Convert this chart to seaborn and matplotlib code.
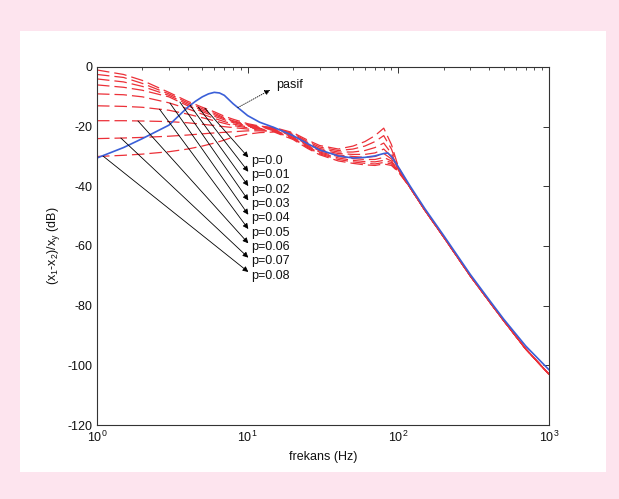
import matplotlib
matplotlib.use('Agg')
import matplotlib.pyplot as plt
import numpy as np
import seaborn as sns
from matplotlib.patches import Rectangle

# Passive system response (blue)
blue_freq = [1, 1.5, 2, 3, 4, 4.5, 5, 5.5, 6, 6.5, 7, 8, 10, 12, 15, 20, 25, 30, 40,
             50, 60, 70, 80, 85, 90, 100, 120, 150, 200, 300, 400, 500, 700, 1000]
blue_db = [-30.5, -27, -24, -19.5, -13.5, -11.5, -10, -9, -8.5, -8.7, -9.5, -12.3, -16.3,
           -18.5, -20.3, -23, -25.7, -27.8, -29.8, -30.5, -30.3, -29.8, -29, -28.8, -30,
           -33.5, -40, -47.5, -56.5, -69.5, -78, -84.5, -93.5, -101.5]

# Active responses (red dashed), one row per p value
red_freq = [1, 1.5, 2, 3, 4, 5, 6, 7, 8, 10, 12, 15, 20, 25, 30, 40, 50, 60, 70, 80, 90,
            100, 120, 150, 200, 300, 400, 500, 700, 1000]
red_tail_db = [-40.5, -48, -57, -70, -78.5, -85, -94.5, -103]
red_db = [
    [-1, -2.5, -4.5, -8.5, -11.5, -13.5, -15, -16.5, -17.5, -19, -19.8, -20.3, -22, -24.5,
     -26.3, -27.5, -26.5, -25, -23, -20.5, -26, -33.5],
    [-2.5, -3.5, -5.5, -9, -12, -14, -15.5, -17, -18, -19.3, -20, -20.5, -22.3, -25,
     -26.8, -28, -27.5, -26.5, -25, -23, -27.5, -33.8],
    [-4, -5, -6.5, -9.5, -12.5, -14.5, -16, -17.3, -18.3, -19.5, -20.2, -20.6, -22.6, -25.4,
     -27.3, -28.5, -28.5, -28, -27, -25.5, -29, -34],
    [-6, -6.8, -7.8, -10, -13, -15, -16.5, -17.7, -18.6, -19.8, -20.4, -20.8, -22.9, -25.8,
     -27.7, -29, -29.3, -29.3, -28.8, -27.5, -30, -34.2],
    [-9, -9.3, -10, -12, -14, -15.8, -17.2, -18.3, -19.1, -20.1, -20.6, -21, -23.2, -26.1,
     -28.1, -29.5, -30, -30.3, -30, -29, -30.8, -34.4],
    [-13, -13.2, -13.5, -14.5, -15.8, -17, -18, -18.9, -19.6, -20.4, -20.8, -21.2, -23.5,
     -26.4, -28.5, -30, -30.7, -31, -31, -30.3, -31.5, -34.6],
    [-18, -18, -18.1, -18.3, -18.7, -19.2, -19.6, -20, -20.3, -20.8, -21.1, -21.4, -23.8,
     -26.7, -28.8, -30.5, -31.3, -31.7, -31.8, -31.3, -32, -34.8],
    [-24, -23.8, -23.6, -23.2, -22.8, -22.4, -22.1, -21.9, -21.7, -21.4, -21.4, -21.6, -24,
     -27, -29.1, -31, -31.8, -32.3, -32.5, -32, -32.5, -35],
    [-30, -29.6, -29.2, -28.4, -27.5, -26.5, -25.5, -24.5, -23.5, -22.5, -22, -21.8, -24.3,
     -27.3, -29.4, -31.5, -32.3, -32.8, -33, -32.5, -33, -35.2],
]
p_labels = ['p=0.0', 'p=0.01', 'p=0.02', 'p=0.03', 'p=0.04', 'p=0.05', 'p=0.06',
            'p=0.07', 'p=0.08']
# where each arrow leaves its red curve (Hz) and where its label sits (dB)
arrow_start_freq = [5.2, 4.7, 4.15, 3.55, 3.05, 2.6, 1.87, 1.44, 1.1]
label_db = [-31.5, -36.3, -41.1, -45.9, -50.7, -55.5, -60.3, -65.1, -69.9]

sns.set_theme(style='white')
plt.rcParams['font.family'] = ['Liberation Sans', 'DejaVu Sans']
plt.rcParams['axes.unicode_minus'] = False
plt.rcParams['mathtext.fontset'] = 'custom'
plt.rcParams['mathtext.rm'] = 'Liberation Sans'

pink = '#fde4ee'
fig = plt.figure(figsize=(6.19, 4.99), dpi=100, facecolor=pink)
fig.add_artist(Rectangle((20 / 619, 27 / 499), 586 / 619, 441 / 499,
                         transform=fig.transFigure, facecolor='white',
                         edgecolor='none', zorder=-1))
ax = fig.add_axes([97 / 619, 74 / 499, 452 / 619, 358 / 499])
ax.set_facecolor('white')

for row in red_db:
    sns.lineplot(x=red_freq, y=row + red_tail_db, ax=ax, color='#ec3038',
                 linewidth=0.9, estimator=None, sort=False)
for line in ax.get_lines():
    line.set_dashes((10, 4))

sns.lineplot(x=blue_freq, y=blue_db, ax=ax, color='#3a5fd8', linewidth=1.2,
             estimator=None, sort=False)

ax.set_xscale('log')
ax.set_xlim(1, 1000)
ax.set_ylim(-120, 0)
ax.set_yticks(range(-120, 1, 20))

# p arrows
for row, f0, lab, ly in zip(red_db, arrow_start_freq, p_labels, label_db):
    y0 = np.interp(np.log10(f0), np.log10(red_freq[:len(row)]), row)
    ax.annotate('', xy=(10.1, ly + 1.2), xytext=(f0, y0),
                arrowprops=dict(arrowstyle='-|>', color='black', lw=0.6,
                                mutation_scale=8, shrinkA=0, shrinkB=0))
    ax.text(10.6, ly, lab, fontsize=9, va='center', ha='left', color='#111111')

# passive arrow
yb = np.interp(np.log10(8.6), np.log10(blue_freq), blue_db)
ax.annotate('', xy=(14.1, -7.7), xytext=(8.6, yb),
            arrowprops=dict(arrowstyle='-|>', color='black', lw=0.6,
                            mutation_scale=8, shrinkA=0, shrinkB=0, linestyle=':'))
ax.text(15.4, -6, 'pasif', fontsize=9, va='center', ha='left', color='#111111')

for s in ax.spines.values():
    s.set_visible(True)
    s.set_color('#333333')
    s.set_linewidth(0.8)
ax.tick_params(which='both', direction='in', top=True, right=True, colors='#333333',
               labelcolor='#111111', labelsize=9)
ax.tick_params(which='major', length=4, width=0.7)
ax.tick_params(which='minor', length=2.5, width=0.6)
ax.set_xlabel('frekans (Hz)', fontsize=9, color='#111111')
ax.set_ylabel(r'(x$_\mathdefault{1}$-x$_\mathdefault{2}$)/x$_\mathdefault{y}$ (dB)',
              fontsize=9, color='#111111')
ax.grid(False)

fig.savefig('out.png', dpi=100, facecolor=pink)
